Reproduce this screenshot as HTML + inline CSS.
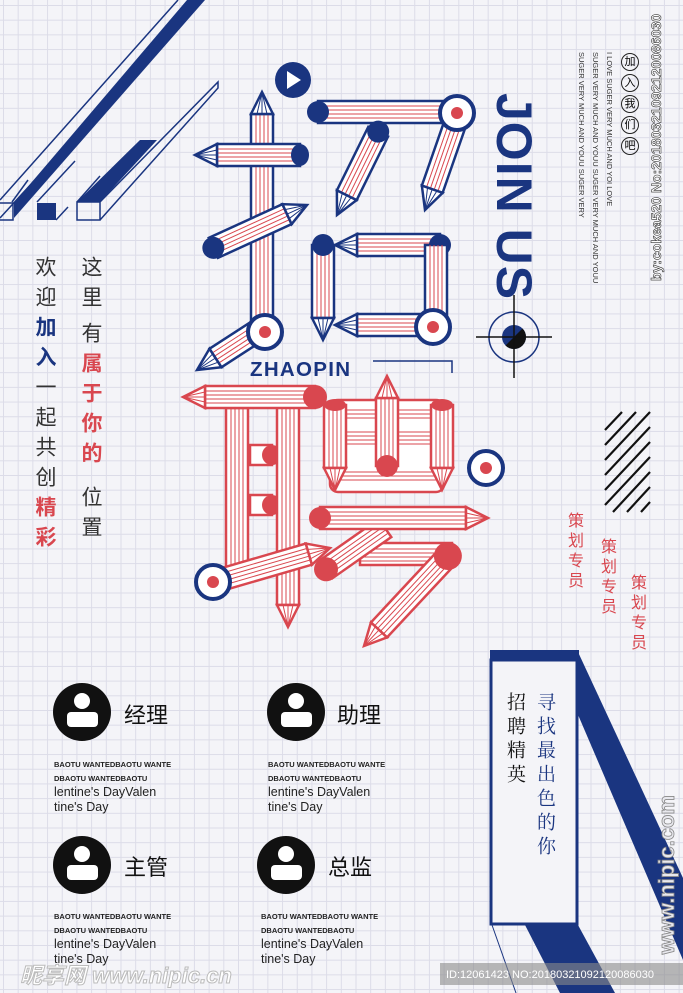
<!DOCTYPE html>
<html><head><meta charset="utf-8"><style>
html,body{margin:0;padding:0}
body{width:683px;height:993px;overflow:hidden;position:relative;background:#f4f4f8;font-family:"Liberation Sans","Noto Sans CJK SC",sans-serif}
.grid{position:absolute;inset:0;background-image:linear-gradient(#dcdce8 1px,transparent 1px),linear-gradient(90deg,#dcdce8 1px,transparent 1px);background-size:14.7px 14.7px;background-position:3px 5px}
svg{position:absolute;left:0;top:0}
.v{position:absolute;writing-mode:vertical-rl;line-height:1}
.ab{position:absolute}
.small{font-size:7.5px;font-weight:bold;color:#222;line-height:16px;white-space:nowrap}
.lt{font-size:12.5px;color:#222;line-height:15px;white-space:nowrap}
.job{font-size:22px;color:#111}
</style></head><body>
<div class="grid"></div>
<svg width="683" height="993" viewBox="0 0 683 993">
<defs>
<g id="tipB"><path d="M22 -11 L0 0 L22 11Z" fill="#fff" stroke="#1a3580" stroke-width="2.5"/><path d="M0 0 L22 -5 M0 0 L22 5 M0 0 L22 0" stroke="#1a3580" stroke-width="1"/></g>
<g id="tipR"><path d="M22 -11 L0 0 L22 11Z" fill="#fff" stroke="#d9474f" stroke-width="2.5"/><path d="M0 0 L22 -5 M0 0 L22 5 M0 0 L22 0" stroke="#d9474f" stroke-width="1"/></g>
</defs>
<g fill="none" stroke="#1a3580" stroke-width="1.5">
<path d="M0 200 L178 0 M0 218 L200 0"/>
<path d="M0 203 L13 203 L13 220 L0 220"/>
<path d="M12 202 L28 180"/>
<path d="M37 202 L75 161 M56 220 L68 207"/>
<path d="M77 202 L100 176"/>
<path d="M77 202 L100 202 L100 220 L77 220Z M100 220 L218 88 L218 82 L100 202 M100 202 L218 82"/>
</g>
<path d="M14 218 L205 0 L187 0 L14 203Z" fill="#1a3580"/>
<path d="M37 203 L56 203 L56 220 L37 220Z" fill="#1a3580"/>
<path d="M77 202 L140 140 L157 140 L100 202Z" fill="#1a3580"/>
<circle cx="293" cy="80" r="18" fill="#1a3580"/><path d="M287 71 L301 80 L287 89Z" fill="#fff"/>

<g stroke-width="2.5">
<g transform="translate(262,92) rotate(90)"><rect x="22" y="-11" width="208" height="22" fill="#fff" stroke="#1a3580"/><path d="M22 -6H230M22 -2H230M22 2H230M22 6H230" stroke="#d9474f" stroke-width="1"/><use href="#tipB"/></g>
<g transform="translate(195,155)"><rect x="22" y="-11" width="83" height="22" fill="#fff" stroke="#1a3580"/><path d="M22 -6H105M22 -2H105M22 2H105M22 6H105" stroke="#d9474f" stroke-width="1"/><use href="#tipB"/><ellipse cx="105" cy="0" rx="9" ry="11" fill="#1a3580"/></g>
<g transform="translate(307,205) rotate(155.4)"><rect x="22" y="-11" width="81" height="22" fill="#fff" stroke="#1a3580"/><path d="M22 -6H103M22 -2H103M22 2H103M22 6H103" stroke="#d9474f" stroke-width="1"/><use href="#tipB"/><circle cx="103" cy="0" r="11" fill="#1a3580"/></g>
<g transform="translate(197,370) rotate(-33)"><rect x="22" y="-11" width="55" height="22" fill="#fff" stroke="#1a3580"/><path d="M22 -6H77M22 -2H77M22 2H77M22 6H77" stroke="#d9474f" stroke-width="1"/><use href="#tipB"/></g>
<g transform="translate(455,112) rotate(180)"><rect x="0" y="-11" width="137" height="22" fill="#fff" stroke="#1a3580"/><path d="M0 -6H137M0 -2H137M0 2H137M0 6H137" stroke="#d9474f" stroke-width="1"/><circle cx="137" cy="0" r="11" fill="#1a3580"/></g>
<g transform="translate(425,210) rotate(-70.8)"><rect x="22" y="-11" width="78" height="22" fill="#fff" stroke="#1a3580"/><path d="M22 -6H100M22 -2H100M22 2H100M22 6H100" stroke="#d9474f" stroke-width="1"/><use href="#tipB"/></g>
<g transform="translate(337,215) rotate(-63.7)"><rect x="22" y="-11" width="71" height="22" fill="#fff" stroke="#1a3580"/><path d="M22 -6H93M22 -2H93M22 2H93M22 6H93" stroke="#d9474f" stroke-width="1"/><use href="#tipB"/><circle cx="93" cy="0" r="11" fill="#1a3580"/></g>
<g transform="translate(335,245)"><rect x="22" y="-11" width="83" height="22" fill="#fff" stroke="#1a3580"/><path d="M22 -6H105M22 -2H105M22 2H105M22 6H105" stroke="#d9474f" stroke-width="1"/><use href="#tipB"/><circle cx="105" cy="0" r="11" fill="#1a3580"/></g>
<g transform="translate(323,340) rotate(-90)"><rect x="22" y="-11" width="73" height="22" fill="#fff" stroke="#1a3580"/><path d="M22 -6H95M22 -2H95M22 2H95M22 6H95" stroke="#d9474f" stroke-width="1"/><use href="#tipB"/><circle cx="95" cy="0" r="11" fill="#1a3580"/></g>
<g transform="translate(436,328) rotate(-90)"><rect x="0" y="-11" width="83" height="22" fill="#fff" stroke="#1a3580"/><path d="M0 -6H83M0 -2H83M0 2H83M0 6H83" stroke="#d9474f" stroke-width="1"/></g>
<g transform="translate(335,325)"><rect x="22" y="-11" width="80" height="22" fill="#fff" stroke="#1a3580"/><path d="M22 -6H102M22 -2H102M22 2H102M22 6H102" stroke="#d9474f" stroke-width="1"/><use href="#tipB"/></g>
</g>
<g><circle cx="265" cy="332" r="17" fill="#fff" stroke="#1a3580" stroke-width="4"/><circle cx="265" cy="332" r="6" fill="#d9474f"/>
<circle cx="457" cy="113" r="17" fill="#fff" stroke="#1a3580" stroke-width="4"/><circle cx="457" cy="113" r="6" fill="#d9474f"/>
<circle cx="433" cy="327" r="17" fill="#fff" stroke="#1a3580" stroke-width="4"/><circle cx="433" cy="327" r="6" fill="#d9474f"/></g>

<text x="250" y="376" font-family="Liberation Sans" font-weight="bold" font-size="20.5" letter-spacing="1.3" fill="#1a3580">ZHAOPIN</text>
<path d="M373 361 L452 361 L452 373" stroke="#1a3580" stroke-width="1.5" fill="none"/>

<g stroke-width="2.5" stroke="#d9474f">
<rect x="226" y="408" width="22" height="165" fill="#fff"/><path d="M231 408V573M235 408V573M239 408V573M243 408V573" stroke-width="1"/>
<rect x="250" y="445" width="22" height="20" fill="#fff"/><circle cx="272" cy="455" r="10" fill="#d9474f" stroke="none"/>
<rect x="250" y="495" width="22" height="20" fill="#fff"/><circle cx="272" cy="505" r="10" fill="#d9474f" stroke="none"/>
<g transform="translate(288,627) rotate(-90)"><rect x="22" y="-11" width="198" height="22" fill="#fff"/><path d="M22 -6H220M22 -2H220M22 2H220M22 6H220" stroke-width="1"/><use href="#tipR"/></g>
<g transform="translate(183,397)"><rect x="22" y="-11" width="110" height="22" fill="#fff"/><path d="M22 -6H132M22 -2H132M22 2H132M22 6H132" stroke-width="1"/><use href="#tipR"/><circle cx="132" cy="0" r="12" fill="#d9474f" stroke="none"/></g>
<rect x="330" y="400" width="114" height="92" rx="8" fill="#fff"/>
<path d="M335 410H442M335 414H442M335 418H442M335 432H442M335 436H442M335 440H442M335 444H442M335 472H442M335 476H442M335 480H442" stroke-width="1"/>
<g transform="translate(335,490) rotate(-90)"><rect x="22" y="-11" width="63" height="22" fill="#fff"/><path d="M22 -6H85M22 -2H85M22 2H85M22 6H85" stroke-width="1"/><use href="#tipR"/><ellipse cx="85" cy="0" rx="6" ry="11" fill="#d9474f" stroke="none"/></g>
<g transform="translate(442,490) rotate(-90)"><rect x="22" y="-11" width="63" height="22" fill="#fff"/><path d="M22 -6H85M22 -2H85M22 2H85M22 6H85" stroke-width="1"/><use href="#tipR"/><ellipse cx="85" cy="0" rx="6" ry="11" fill="#d9474f" stroke="none"/></g>
<g transform="translate(387,376) rotate(90)"><rect x="22" y="-11" width="68" height="22" fill="#fff"/><path d="M22 -6H90M22 -2H90M22 2H90M22 6H90" stroke-width="1"/><use href="#tipR"/><circle cx="90" cy="0" r="11" fill="#d9474f" stroke="none"/></g>
<rect x="360" y="543" width="92" height="22" fill="#fff"/><path d="M360 549H452M360 553H452M360 557H452M360 561H452" stroke-width="1"/>
<g transform="translate(385,528) rotate(145)"><rect x="0" y="-11" width="72" height="22" fill="#fff"/><path d="M0 -6H72M0 -2H72M0 2H72M0 6H72" stroke-width="1"/><circle cx="72" cy="0" r="12" fill="#d9474f" stroke="none"/></g>
<g transform="translate(488,518) rotate(180)"><rect x="22" y="-11" width="146" height="22" fill="#fff"/><path d="M22 -6H168M22 -2H168M22 2H168M22 6H168" stroke-width="1"/><use href="#tipR"/><circle cx="168" cy="0" r="11" fill="#d9474f" stroke="none"/></g>
<g transform="translate(330,548) rotate(163.8)"><rect x="22" y="-11" width="98" height="22" fill="#fff"/><path d="M22 -6H120M22 -2H120M22 2H120M22 6H120" stroke-width="1"/><use href="#tipR"/></g>
<g transform="translate(364,646) rotate(-47)"><rect x="22" y="-11" width="101" height="22" fill="#fff"/><path d="M22 -6H123M22 -2H123M22 2H123M22 6H123" stroke-width="1"/><use href="#tipR"/><circle cx="123" cy="0" r="14" fill="#d9474f" stroke="none"/></g>
</g>
<circle cx="213" cy="582" r="17" fill="#fff" stroke="#1a3580" stroke-width="4"/><circle cx="213" cy="582" r="6" fill="#d9474f"/>
<circle cx="486" cy="468" r="17" fill="#fff" stroke="#1a3580" stroke-width="4"/><circle cx="486" cy="468" r="6" fill="#d9474f"/>

<circle cx="514" cy="337" r="25" fill="none" stroke="#1a3580" stroke-width="1.5"/>
<circle cx="514" cy="337" r="12" fill="#1a3580"/><path d="M514 325 A12 12 0 0 1 514 349Z" fill="#111" transform="rotate(45 514 337)"/>
<path d="M476 337H552M514 295V378" stroke="#111" stroke-width="1.5"/>

<g stroke="#111" stroke-width="2.2">
<path d="M605 430 L622 412 M605 445 L636 412 M605 460 L650 412 M605 475 L650 427 M605 490 L650 442 M605 505 L650 457 M613 512 L650 472 M627 512 L650 487 M641 512 L650 502"/>
</g>

<path d="M578 652 L683 878 L683 960 L558 668Z" fill="#1a3580"/>
<path d="M525 925 L578 925 L615 993 L560 993Z" fill="#1a3580"/>
<path d="M492 925 L516 993" stroke="#1a3580" stroke-width="1"/>
<rect x="490" y="650" width="89" height="12" fill="#1a3580"/>
<rect x="491" y="660" width="86" height="264" fill="#f4f4f8" stroke="#1a3580" stroke-width="3"/>
<rect x="440" y="963" width="243" height="22" fill="#8a8a8a" opacity="0.6"/>
<text x="446" y="978" font-size="11" fill="#fff" font-family="Liberation Sans">ID:12061423 NO:20180321092120086030</text>

<g fill="#111">
<circle cx="82" cy="712" r="29"/><circle cx="296" cy="712" r="29"/><circle cx="82" cy="865" r="29"/><circle cx="286" cy="865" r="29"/>
</g>
<g fill="#fff">
<circle cx="82" cy="701" r="8"/><rect x="67" y="712" width="31" height="15" rx="4"/>
<circle cx="296" cy="701" r="8"/><rect x="281" y="712" width="31" height="15" rx="4"/>
<circle cx="82" cy="854" r="8"/><rect x="67" y="865" width="31" height="15" rx="4"/>
<circle cx="286" cy="854" r="8"/><rect x="271" y="865" width="31" height="15" rx="4"/>
</g>
<text x="20" y="983" font-size="22" font-weight="bold" font-style="italic" fill="#fff" stroke="#bbb" stroke-width="1" font-family="Liberation Sans,Noto Sans CJK SC">昵享网 www.nipic.cn</text>
</svg>

<div class="v" style="left:34px;top:256px;font-size:21px;letter-spacing:9px;color:#333">欢迎<span style="color:#1a3580;font-weight:bold">加入</span>一起共创<span style="color:#d9474f;font-weight:bold">精彩</span></div>
<div class="v" style="left:80px;top:256px;font-size:21px;color:#333;letter-spacing:9px">这里<span style="margin-top:6px">有</span><span style="color:#d9474f;font-weight:bold">属于你的</span><span style="margin-top:14px">位置</span></div>

<div class="ab" style="left:539px;top:93px;transform-origin:0 0;transform:rotate(90deg);font-size:50px;font-weight:bold;color:#1a3580;white-space:nowrap;letter-spacing:1px;line-height:1">JOIN US</div>

<div class="ab" style="left:621px;top:53px;width:18px">
<div style="width:16px;height:16px;border:1px solid #222;border-radius:50%;font-size:11px;text-align:center;line-height:16px;margin-bottom:3px">加</div>
<div style="width:16px;height:16px;border:1px solid #222;border-radius:50%;font-size:11px;text-align:center;line-height:16px;margin-bottom:3px">入</div>
<div style="width:16px;height:16px;border:1px solid #222;border-radius:50%;font-size:11px;text-align:center;line-height:16px;margin-bottom:3px">我</div>
<div style="width:16px;height:16px;border:1px solid #222;border-radius:50%;font-size:11px;text-align:center;line-height:16px;margin-bottom:3px">们</div>
<div style="width:16px;height:16px;border:1px solid #222;border-radius:50%;font-size:11px;text-align:center;line-height:16px">吧</div>
</div>
<div class="v" style="left:574px;top:52px;font-size:7.5px;color:#333;line-height:14px;white-space:nowrap">I LOVE SUGER VERY MUCH AND YOI LOVE<br>SUGER VERY MUCH AND YOUU SUGER VERY MUCH AND YOUU<br>SUGER VERY MUCH AND YOUU SUGER VERY</div>
<div class="v" style="left:649px;top:14px;font-size:14px;font-weight:bold;color:#fff;-webkit-text-stroke:0.6px #333;white-space:nowrap;transform:rotate(180deg)">by:cokea520 No:20180321092120086030</div>
<div class="v" style="left:656px;top:795px;font-size:22px;font-weight:bold;color:#e8e8ee;-webkit-text-stroke:0.8px #888;white-space:nowrap;transform:rotate(180deg)">www.nipic.com</div>

<div class="v" style="left:565px;top:512px;font-size:16px;color:#d9474f;letter-spacing:4px">策划专员</div>
<div class="v" style="left:598px;top:538px;font-size:16px;color:#d9474f;letter-spacing:4px">策划专员</div>
<div class="v" style="left:628px;top:574px;font-size:16px;color:#d9474f;letter-spacing:4px">策划专员</div>

<div class="v" style="left:507px;top:692px;font-size:19px;color:#111;letter-spacing:5px;font-family:'Noto Serif CJK SC',serif">招聘精英</div>
<div class="v" style="left:537px;top:692px;font-size:19px;color:#1a3580;letter-spacing:5px;font-family:'Noto Serif CJK SC',serif">寻找最出色的你</div>

<div class="ab job" style="left:124px;top:698px">经理</div>
<div class="ab job" style="left:337px;top:698px">助理</div>
<div class="ab job" style="left:124px;top:850px">主管</div>
<div class="ab job" style="left:328px;top:850px">总监</div>

<div class="ab" style="left:54px;top:757px"><div class="small">BAOTU WANTEDBAOTU WANTE</div><div class="small" style="line-height:12px">DBAOTU WANTEDBAOTU</div><div class="lt">lentine's DayValen<br>tine's Day</div></div>
<div class="ab" style="left:268px;top:757px"><div class="small">BAOTU WANTEDBAOTU WANTE</div><div class="small" style="line-height:12px">DBAOTU WANTEDBAOTU</div><div class="lt">lentine's DayValen<br>tine's Day</div></div>
<div class="ab" style="left:54px;top:909px"><div class="small">BAOTU WANTEDBAOTU WANTE</div><div class="small" style="line-height:12px">DBAOTU WANTEDBAOTU</div><div class="lt">lentine's DayValen<br>tine's Day</div></div>
<div class="ab" style="left:261px;top:909px"><div class="small">BAOTU WANTEDBAOTU WANTE</div><div class="small" style="line-height:12px">DBAOTU WANTEDBAOTU</div><div class="lt">lentine's DayValen<br>tine's Day</div></div>
</body></html>
